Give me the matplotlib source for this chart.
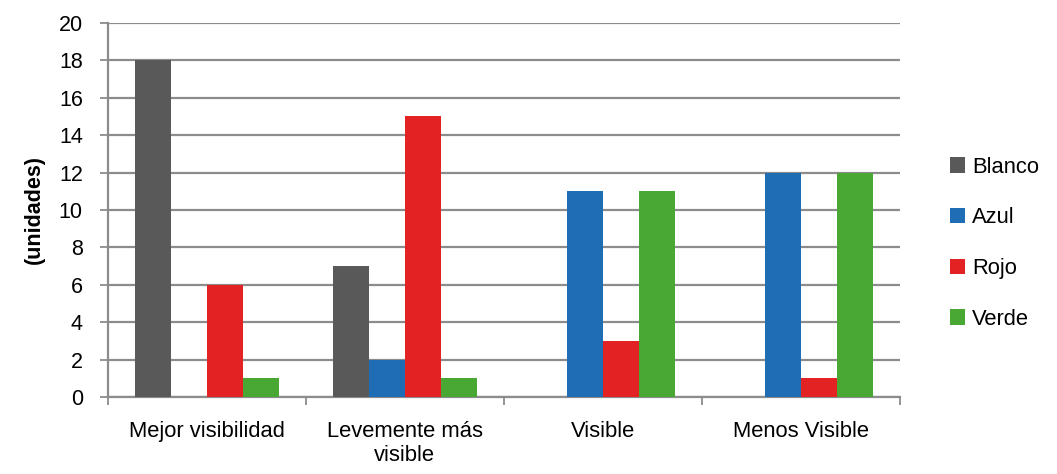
import numpy as np
import matplotlib
matplotlib.use("Agg")
import matplotlib.pyplot as plt

plt.rcParams['font.family'] = ['Liberation Sans', 'DejaVu Sans']

categorias = ["Mejor visibilidad", "Levemente más\nvisible", "Visible", "Menos Visible"]
series = ["Blanco", "Azul", "Rojo", "Verde"]
blanco = [18, 7, 0, 0]
azul = [0, 2, 11, 12]
rojo = [6, 15, 3, 1]
verde = [1, 1, 11, 12]
valores = [blanco, azul, rojo, verde]
colores = ["#595959", "#1f6db4", "#e32224", "#48a833"]

fig = plt.figure(figsize=(10.57, 4.74), dpi=100)
ax = fig.add_axes([0.102, 0.162, 0.749, 0.790])

x = np.arange(len(categorias)) + 0.5
w = 0.182
for i, (nom, vals) in enumerate(zip(series, valores)):
    ax.bar(x + (i - 1.5) * w, vals, w, color=colores[i], label=nom, zorder=3)

ax.set_xlim(0, 4)
ax.set_ylim(0, 20)
ax.set_yticks(np.arange(0, 21, 2))
ax.yaxis.grid(True, color="#8c8c8c", linewidth=1.6, zorder=0)
ax.tick_params(axis="y", labelsize=15.5, length=6, width=1.3, color="#8c8c8c", pad=12)

# ticks at the category boundaries, labels in between
ax.set_xticks(np.arange(0, 5))
ax.set_xticklabels([])
ax.set_xticks(x, minor=True)
ax.set_xticklabels(categorias, minor=True, fontsize=15.8)
ax.tick_params(axis="x", which="major", length=6, width=1.3, color="#8c8c8c")
ax.tick_params(axis="x", which="minor", length=0, pad=17)

for s in ["top", "right"]:
    ax.spines[s].set_visible(False)
for s in ["left", "bottom"]:
    ax.spines[s].set_color("#8c8c8c")
    ax.spines[s].set_linewidth(1.6)

ax.set_ylabel("(unidades)", fontsize=15.5, fontweight="bold", labelpad=10)

fig.legend(loc="center left", bbox_to_anchor=(0.88, 0.487), frameon=False,
           fontsize=15.8, handlelength=0.7, handleheight=0.7, handletextpad=0.3,
           labelspacing=1.35)

fig.savefig("out.png", dpi=100)
